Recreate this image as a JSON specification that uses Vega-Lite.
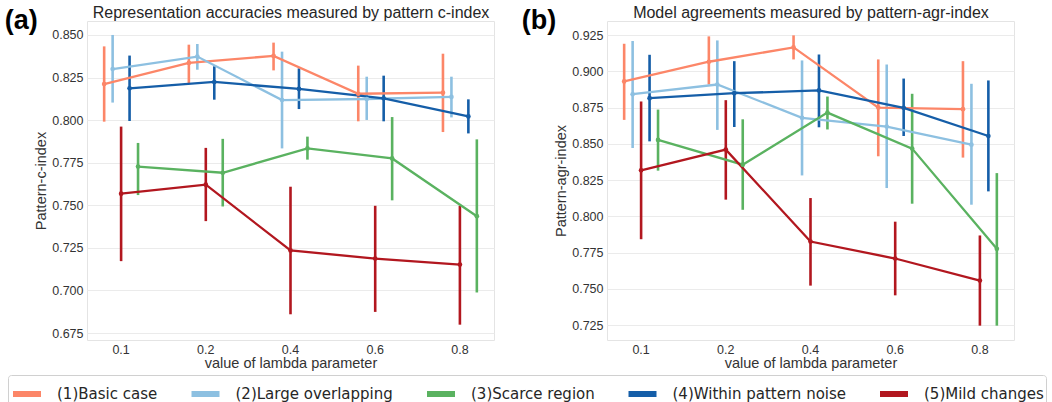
{
  "$schema": "https://vega.github.io/schema/vega-lite/v6.json",
  "background": "white",
  "padding": {"left": 4, "top": 3, "right": 0, "bottom": 0},
  "datasets": {
    "a": [
      {"lambda": "0.1", "s": "(1)Basic case", "mean": 0.8212, "lo": 0.7991, "hi": 0.8433},
      {"lambda": "0.2", "s": "(1)Basic case", "mean": 0.8336, "lo": 0.8218, "hi": 0.8443},
      {"lambda": "0.4", "s": "(1)Basic case", "mean": 0.8377, "lo": 0.8292, "hi": 0.8455},
      {"lambda": "0.6", "s": "(1)Basic case", "mean": 0.8155, "lo": 0.7993, "hi": 0.8320},
      {"lambda": "0.8", "s": "(1)Basic case", "mean": 0.8161, "lo": 0.7930, "hi": 0.8390},
      {"lambda": "0.1", "s": "(2)Large overlapping", "mean": 0.8300, "lo": 0.8103, "hi": 0.8500},
      {"lambda": "0.2", "s": "(2)Large overlapping", "mean": 0.8373, "lo": 0.8296, "hi": 0.8447},
      {"lambda": "0.4", "s": "(2)Large overlapping", "mean": 0.8118, "lo": 0.7834, "hi": 0.8402},
      {"lambda": "0.6", "s": "(2)Large overlapping", "mean": 0.8124, "lo": 0.8001, "hi": 0.8255},
      {"lambda": "0.8", "s": "(2)Large overlapping", "mean": 0.8136, "lo": 0.8016, "hi": 0.8255},
      {"lambda": "0.1", "s": "(3)Scarce region", "mean": 0.7727, "lo": 0.7560, "hi": 0.7866},
      {"lambda": "0.2", "s": "(3)Scarce region", "mean": 0.7691, "lo": 0.7493, "hi": 0.7890},
      {"lambda": "0.4", "s": "(3)Scarce region", "mean": 0.7834, "lo": 0.7768, "hi": 0.7903},
      {"lambda": "0.6", "s": "(3)Scarce region", "mean": 0.7775, "lo": 0.7529, "hi": 0.8018},
      {"lambda": "0.8", "s": "(3)Scarce region", "mean": 0.7436, "lo": 0.6988, "hi": 0.7887},
      {"lambda": "0.1", "s": "(4)Within pattern noise", "mean": 0.8187, "lo": 0.7995, "hi": 0.8379},
      {"lambda": "0.2", "s": "(4)Within pattern noise", "mean": 0.8224, "lo": 0.8120, "hi": 0.8316},
      {"lambda": "0.4", "s": "(4)Within pattern noise", "mean": 0.8183, "lo": 0.8065, "hi": 0.8304},
      {"lambda": "0.6", "s": "(4)Within pattern noise", "mean": 0.8128, "lo": 0.7993, "hi": 0.8261},
      {"lambda": "0.8", "s": "(4)Within pattern noise", "mean": 0.8022, "lo": 0.7922, "hi": 0.8122},
      {"lambda": "0.1", "s": "(5)Mild changes", "mean": 0.7568, "lo": 0.7172, "hi": 0.7962},
      {"lambda": "0.2", "s": "(5)Mild changes", "mean": 0.7621, "lo": 0.7407, "hi": 0.7837},
      {"lambda": "0.4", "s": "(5)Mild changes", "mean": 0.7235, "lo": 0.6860, "hi": 0.7609},
      {"lambda": "0.6", "s": "(5)Mild changes", "mean": 0.7187, "lo": 0.6874, "hi": 0.7497},
      {"lambda": "0.8", "s": "(5)Mild changes", "mean": 0.7152, "lo": 0.6799, "hi": 0.7497}
    ],
    "b": [
      {"lambda": "0.1", "s": "(1)Basic case", "mean": 0.8930, "lo": 0.8665, "hi": 0.9190},
      {"lambda": "0.2", "s": "(1)Basic case", "mean": 0.9066, "lo": 0.8909, "hi": 0.9241},
      {"lambda": "0.4", "s": "(1)Basic case", "mean": 0.9165, "lo": 0.9082, "hi": 0.9248},
      {"lambda": "0.6", "s": "(1)Basic case", "mean": 0.8750, "lo": 0.8414, "hi": 0.9082},
      {"lambda": "0.8", "s": "(1)Basic case", "mean": 0.8739, "lo": 0.8405, "hi": 0.9070},
      {"lambda": "0.1", "s": "(2)Large overlapping", "mean": 0.8842, "lo": 0.8471, "hi": 0.9209},
      {"lambda": "0.2", "s": "(2)Large overlapping", "mean": 0.8909, "lo": 0.8596, "hi": 0.9213},
      {"lambda": "0.4", "s": "(2)Large overlapping", "mean": 0.8679, "lo": 0.8282, "hi": 0.9075},
      {"lambda": "0.6", "s": "(2)Large overlapping", "mean": 0.8619, "lo": 0.8195, "hi": 0.9047},
      {"lambda": "0.8", "s": "(2)Large overlapping", "mean": 0.8494, "lo": 0.8080, "hi": 0.8914},
      {"lambda": "0.1", "s": "(3)Scarce region", "mean": 0.8527, "lo": 0.8315, "hi": 0.8736},
      {"lambda": "0.2", "s": "(3)Scarce region", "mean": 0.8356, "lo": 0.8045, "hi": 0.8669},
      {"lambda": "0.4", "s": "(3)Scarce region", "mean": 0.8715, "lo": 0.8599, "hi": 0.8826},
      {"lambda": "0.6", "s": "(3)Scarce region", "mean": 0.8467, "lo": 0.8087, "hi": 0.8845},
      {"lambda": "0.8", "s": "(3)Scarce region", "mean": 0.7776, "lo": 0.7246, "hi": 0.8298},
      {"lambda": "0.1", "s": "(4)Within pattern noise", "mean": 0.8815, "lo": 0.8517, "hi": 0.9114},
      {"lambda": "0.2", "s": "(4)Within pattern noise", "mean": 0.8849, "lo": 0.8616, "hi": 0.9070},
      {"lambda": "0.4", "s": "(4)Within pattern noise", "mean": 0.8868, "lo": 0.8614, "hi": 0.9116},
      {"lambda": "0.6", "s": "(4)Within pattern noise", "mean": 0.8748, "lo": 0.8554, "hi": 0.8950},
      {"lambda": "0.8", "s": "(4)Within pattern noise", "mean": 0.8554, "lo": 0.8172, "hi": 0.8937},
      {"lambda": "0.1", "s": "(5)Mild changes", "mean": 0.8317, "lo": 0.7842, "hi": 0.8792},
      {"lambda": "0.2", "s": "(5)Mild changes", "mean": 0.8460, "lo": 0.8115, "hi": 0.8801},
      {"lambda": "0.4", "s": "(5)Mild changes", "mean": 0.7826, "lo": 0.7522, "hi": 0.8126},
      {"lambda": "0.6", "s": "(5)Mild changes", "mean": 0.7709, "lo": 0.7455, "hi": 0.7963},
      {"lambda": "0.8", "s": "(5)Mild changes", "mean": 0.7557, "lo": 0.7246, "hi": 0.7868}
    ]
  },
  "spacing": 26,
  "hconcat": [
    {
      "width": 407,
      "height": 319,
      "title": {"text": "(a)", "orient": "left", "anchor": "end", "frame": "group", "angle": 0, "align": "right", "baseline": "middle", "fontSize": 27, "fontWeight": "bold", "font": "Liberation Sans", "color": "#000000", "offset": -37},
      "data": {"name": "a"},
      "encoding": {
        "x": {"field": "lambda", "type": "nominal", "scale": {"paddingInner": 0.5, "paddingOuter": 0.1526}, "axis": null},
        "xOffset": {"field": "s", "type": "nominal", "scale": {"domain": ["(1)Basic case", "(2)Large overlapping", "(5)Mild changes", "(4)Within pattern noise", "(3)Scarce region"]}},
        "color": {"field": "s", "type": "nominal", "scale": {"domain": ["(1)Basic case", "(2)Large overlapping", "(3)Scarce region", "(4)Within pattern noise", "(5)Mild changes"], "range": ["#fc8668", "#8dc0e1", "#5ab260", "#155ea8", "#b2171f"]}, "legend": {"title": null}},
        "y": {"field": "mean", "type": "quantitative", "scale": {"domain": [0.6709, 0.8582], "nice": false, "zero": false}, "axis": {"title": "Pattern-c-index", "values": [0.675, 0.7, 0.725, 0.75, 0.775, 0.8, 0.825, 0.85], "format": ".3f"}}
      },
      "resolve": {"axis": {"x": "independent"}},
      "layer": [
        {"mark": {"type": "rule", "strokeWidth": 2.6}, "encoding": {"y": {"field": "lo", "type": "quantitative", "axis": {"title": "Pattern-c-index", "values": [0.675, 0.7, 0.725, 0.75, 0.775, 0.8, 0.825, 0.85], "format": ".3f"}}, "y2": {"field": "hi"}}},
        {"mark": {"type": "line", "strokeWidth": 2.3}, "encoding": {"x": {"field": "lambda", "type": "nominal", "axis": {"title": "value of lambda parameter", "orient": "bottom"}}}},
        {"mark": {"type": "point", "filled": true, "size": 22, "opacity": 1}, "encoding": {"x": {"field": "lambda", "type": "nominal", "axis": {"orient": "top", "title": "Representation accuracies measured by pattern c-index", "labels": false, "grid": false, "titleFontSize": 16, "titlePadding": 1, "titleColor": "#262626"}}}}
      ]
    },
    {
      "width": 407,
      "height": 319,
      "title": {"text": "(b)", "orient": "left", "anchor": "end", "frame": "group", "angle": 0, "align": "right", "baseline": "middle", "fontSize": 27, "fontWeight": "bold", "font": "Liberation Sans", "color": "#000000", "offset": -37},
      "data": {"name": "b"},
      "encoding": {
        "x": {"field": "lambda", "type": "nominal", "scale": {"paddingInner": 0.5, "paddingOuter": 0.1526}, "axis": null},
        "xOffset": {"field": "s", "type": "nominal", "scale": {"domain": ["(1)Basic case", "(2)Large overlapping", "(5)Mild changes", "(4)Within pattern noise", "(3)Scarce region"]}},
        "color": {"field": "s", "type": "nominal", "scale": {"domain": ["(1)Basic case", "(2)Large overlapping", "(3)Scarce region", "(4)Within pattern noise", "(5)Mild changes"], "range": ["#fc8668", "#8dc0e1", "#5ab260", "#155ea8", "#b2171f"]}, "legend": {"title": null}},
        "y": {"field": "mean", "type": "quantitative", "scale": {"domain": [0.7147, 0.9347], "nice": false, "zero": false}, "axis": {"title": "Pattern-agr-index", "values": [0.725, 0.75, 0.775, 0.8, 0.825, 0.85, 0.875, 0.9, 0.925], "format": ".3f"}}
      },
      "resolve": {"axis": {"x": "independent"}},
      "layer": [
        {"mark": {"type": "rule", "strokeWidth": 2.6}, "encoding": {"y": {"field": "lo", "type": "quantitative", "axis": {"title": "Pattern-agr-index", "values": [0.725, 0.75, 0.775, 0.8, 0.825, 0.85, 0.875, 0.9, 0.925], "format": ".3f"}}, "y2": {"field": "hi"}}},
        {"mark": {"type": "line", "strokeWidth": 2.3}, "encoding": {"x": {"field": "lambda", "type": "nominal", "axis": {"title": "value of lambda parameter", "orient": "bottom"}}}},
        {"mark": {"type": "point", "filled": true, "size": 22, "opacity": 1}, "encoding": {"x": {"field": "lambda", "type": "nominal", "axis": {"orient": "top", "title": "Model agreements measured by pattern-agr-index", "labels": false, "grid": false, "titleFontSize": 16, "titlePadding": 1, "titleColor": "#262626"}}}}
      ]
    }
  ],
  "resolve": {"scale": {"y": "independent", "x": "independent", "xOffset": "independent", "color": "shared"}, "legend": {"color": "shared"}},
  "config": {
    "font": "Liberation Sans",
    "view": {"stroke": "#e4e4e4", "strokeWidth": 1},
    "axis": {"domain": false, "ticks": false, "gridColor": "#ebebeb", "gridWidth": 1, "labelFont": "Liberation Sans", "labelFontSize": 12.5, "labelColor": "#333333", "labelPadding": 4, "titleFont": "Liberation Sans", "titleFontSize": 14.5, "titleFontWeight": "normal", "titleColor": "#333333"},
    "axisX": {"grid": false, "labelAngle": 0, "labelPadding": 3, "titlePadding": 1},
    "axisY": {"titlePadding": 3},
    "legend": {"orient": "none", "legendX": -79, "legendY": 354, "direction": "horizontal", "columns": 5, "symbolType": "stroke", "symbolSize": 784, "symbolStrokeWidth": 6, "labelFont": "DejaVu Sans", "labelFontSize": 15, "labelColor": "#262626", "labelOffset": 13, "columnPadding": 21.5, "strokeColor": "#d0d0d0", "cornerRadius": 3, "padding": 2, "labelLimit": 400}
  }
}
